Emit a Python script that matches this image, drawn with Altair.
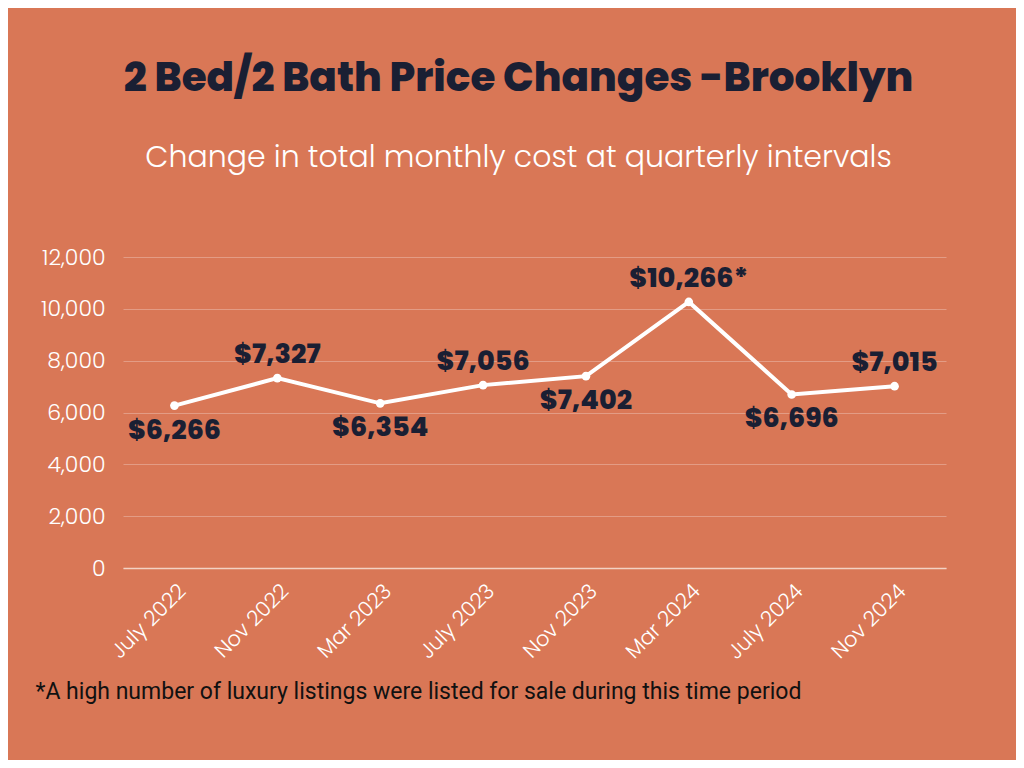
import altair as alt
import pandas as pd

# quarterly snapshots
periods = ["July 2022", "Nov 2022", "Mar 2023", "July 2023",
           "Nov 2023", "Mar 2024", "July 2024", "Nov 2024"]
costs = [6266, 7327, 6354, 7056, 7402, 10266, 6696, 7015]
notes = ["", "", "", "", "", "*", "", ""]

BG = "#D97756"
INK = "#1A1F33"

df = pd.DataFrame({"period": periods, "cost": costs, "note": notes})
df["idx"] = range(len(df))

x = alt.X(
    "period:N",
    sort=periods,
    scale=alt.Scale(type="point", padding=0.5),
    axis=alt.Axis(
        title="*A high number of luxury listings were listed for sale during this time period",
        titleFont="Roboto",
        titleFontSize=23,
        titleFontWeight="normal",
        titleColor="#111111",
        titleAlign="left",
        titleAnchor="start",
        titleBaseline="alphabetic",
        titleX=-88,
        titleY=130,
        labelAngle=-45,
        labelFont="Poppins",
        labelFontSize=21,
        labelFontWeight=300,
        labelColor="white",
        labelPadding=12,
        ticks=False,
        domain=True,
        domainColor="#F3D2C4",
        domainWidth=1.5,
        grid=False,
    ),
)
y = alt.Y(
    "cost:Q",
    scale=alt.Scale(domain=[0, 12000]),
    axis=alt.Axis(
        title=None,
        values=list(range(0, 12001, 2000)),
        format=",d",
        labelFont="Poppins",
        labelFontSize=22,
        labelFontWeight=300,
        labelColor="white",
        labelPadding=18,
        ticks=False,
        domain=False,
        grid=True,
        gridColor="white",
        gridOpacity=0.28,
        gridWidth=1,
    ),
)

base = alt.Chart(df).encode(x=x, y=y)

line = base.mark_line(color="white", strokeWidth=4)
dots = base.mark_point(filled=True, color="white", opacity=1, size=75)

label_style = dict(font="Poppins", fontSize=27, fontWeight=800, color=INK,
                   baseline="middle", align="center")
labels = base.transform_calculate(
    label="'$' + format(datum.cost, ',d') + datum.note"
)
above = labels.transform_filter("datum.idx % 2 == 1").mark_text(
    dy=-23, **label_style
).encode(text="label:N")
below = labels.transform_filter("datum.idx % 2 == 0").mark_text(
    dy=25, **label_style
).encode(text="label:N")

chart = (
    (line + dots + above + below)
    .properties(
        width=823,
        height=311,
        autosize=alt.AutoSizeParams(type="none"),
        padding={"left": 115, "top": 249, "right": 70, "bottom": 192},
        background=BG,
        title=alt.TitleParams(
            "2 Bed/2 Bath Price Changes -Brooklyn",
            subtitle="Change in total monthly cost at quarterly intervals",
            anchor="middle",
            frame="group",
            dx=-16,
            offset=73,
            font="Poppins",
            fontSize=40.5,
            fontWeight=800,
            color=INK,
            subtitleFont="Poppins",
            subtitleFontSize=30,
            subtitleFontWeight=300,
            subtitleColor="white",
            subtitlePadding=44,
        ),
    )
    .configure_view(stroke=None)
)

chart.save("out.html", embed_options={"renderer": "svg", "actions": False})
